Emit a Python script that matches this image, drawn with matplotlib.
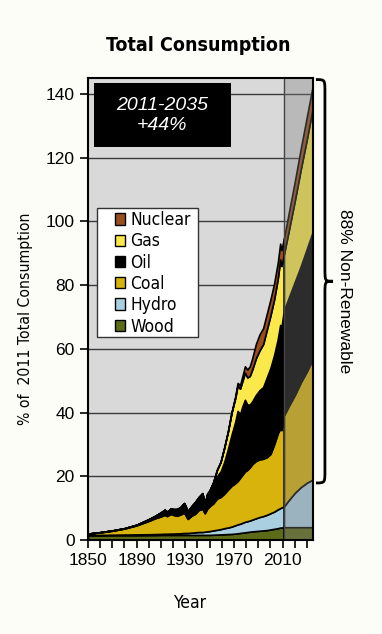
import numpy as np
import matplotlib.pyplot as plt
from matplotlib import font_manager as fm
from matplotlib.patches import Patch, Rectangle, PathPatch
from matplotlib.path import Path
from matplotlib.ticker import MultipleLocator

# historical, % of 2011 total consumption
years = [1850, 1860, 1870, 1880, 1890, 1900, 1905, 1910, 1913, 1915, 1918, 1920,
         1923, 1926, 1929, 1932, 1935, 1938, 1941, 1944, 1946, 1948, 1950, 1953,
         1956, 1959, 1962, 1965, 1968, 1971, 1973, 1975, 1977, 1979, 1981, 1983,
         1985, 1988, 1991, 1994, 1997, 2000, 2003, 2006, 2008, 2009, 2011]
wood = [1.5, 1.5, 1.5, 1.5, 1.5, 1.55, 1.55, 1.6, 1.6, 1.6, 1.6, 1.6,
        1.6, 1.6, 1.6, 1.6, 1.6, 1.6, 1.6, 1.6, 1.6, 1.6, 1.6, 1.65,
        1.7, 1.75, 1.8, 1.85, 1.9, 2.0, 2.1, 2.2, 2.3, 2.4, 2.5, 2.6,
        2.7, 2.8, 2.9, 3.0, 3.1, 3.3, 3.5, 3.7, 3.9, 3.9, 4.0]
hydro = [0.1, 0.1, 0.15, 0.2, 0.25, 0.25, 0.3, 0.3, 0.35, 0.35, 0.4, 0.4,
         0.45, 0.5, 0.6, 0.6, 0.7, 0.8, 0.9, 0.9, 1.0, 1.1, 1.2, 1.35,
         1.5, 1.65, 1.9, 2.05, 2.3, 2.6, 2.8, 2.9, 3.1, 3.3, 3.4, 3.5,
         3.7, 4.0, 4.3, 4.5, 4.8, 5.1, 5.4, 5.9, 6.1, 6.3, 6.5]
coal = [0.4, 0.8, 1.25, 1.9, 2.85, 4.2, 4.95, 5.5, 5.95, 5.55, 6.2, 5.9,
        5.55, 5.9, 6.4, 4.4, 5.3, 5.8, 6.9, 7.3, 5.8, 7.1, 7.8, 8.5,
        9.8, 10.1, 10.8, 11.9, 12.8, 13.2, 13.6, 14.4, 15.1, 15.8, 16.1, 16.7,
        17.4, 18.0, 18.1, 18.0, 18.1, 18.6, 21.1, 23.9, 25.0, 24.3, 28.5]
oil = [0.0, 0.05, 0.1, 0.1, 0.2, 0.5, 0.7, 1.2, 1.5, 1.3, 1.6, 1.7,
       2.0, 2.2, 2.8, 2.2, 2.8, 3.4, 3.8, 4.6, 2.6, 4.2, 4.4, 5.5,
       7.0, 8.0, 10.0, 12.7, 16.0, 19.2, 22.0, 20.0, 21.5, 22.5, 20.5, 19.7,
       19.7, 20.7, 21.7, 22.5, 25.0, 27.0, 28.0, 29.5, 32.5, 32.0, 33.0]
gas = [0, 0, 0, 0, 0, 0.05, 0.05, 0.1, 0.1, 0.1, 0.1, 0.1,
       0.1, 0.15, 0.2, 0.2, 0.2, 0.3, 0.3, 0.3, 0.4, 0.5, 0.6, 1.2,
       2.0, 3.0, 4.5, 5.5, 7.0, 7.5, 8.0, 8.0, 8.0, 8.5, 8.5, 9.0,
       10.0, 11.5, 12.5, 13.5, 15.0, 16.5, 17.5, 19.0, 20.5, 19.5, 17.5]
nuclear = [0] * 29 + [0.5, 0.8, 1.1, 1.5, 2.0, 2.5, 3.0, 3.5, 4.5,
                      5.0, 5.0, 5.0, 5.0, 5.0, 5.0, 5.0, 5.0, 5.0]

# projection 2011-2035
proj_years = [2011, 2015, 2020, 2025, 2030, 2035]
proj_wood = [4.0, 4.0, 4.0, 4.0, 4.0, 4.0]
proj_hydro = [6.5, 8.5, 10.8, 12.6, 14.0, 15.0]
proj_coal = [28.5, 29.5, 30.7, 32.9, 35.0, 38.0]
proj_oil = [33.0, 34.0, 35.5, 36.5, 38.5, 40.0]
proj_gas = [17.5, 21.0, 25.5, 30.5, 34.5, 39.0]
proj_nuclear = [5.0, 5.5, 6.0, 6.5, 7.0, 7.0]

labels = ['Wood', 'Hydro', 'Coal', 'Oil', 'Gas', 'Nuclear']
colors = ['#5c6b17', '#a9cfe0', '#d8b30c', '#000000', '#fbe84a', '#9a4e1c']

plt.rcParams['font.family'] = ['Liberation Sans', 'DejaVu Sans']


def narrow_font(size, bold=False):
    # look for an installed condensed face, else shrink the regular one
    for f in fm.fontManager.ttflist:
        fn = f.fname.replace('\\', '/').split('/')[-1]
        cond = ('Narrow' in fn or 'Condensed' in fn) and 'Semi' not in fn \
            and 'Extra' not in fn and 'Ultra' not in fn
        if not cond or 'Italic' in fn or 'Oblique' in fn:
            continue
        is_bold = 'Bold' in fn
        if is_bold == bold and not any(w in fn for w in ('Light', 'Thin', 'Black', 'Medium')):
            return fm.FontProperties(fname=f.fname, size=size)
    return fm.FontProperties(family=['Liberation Sans', 'DejaVu Sans'], size=size * 0.88,
                             weight='bold' if bold else 'normal')


fig = plt.figure(figsize=(3.82, 6.34), dpi=100, facecolor='#fdfdf8')
ax = fig.add_axes([0.2304, 0.1483, 0.589, 0.7287])
ax.set_facecolor('#d9d9d9')

ax.stackplot(years, wood, hydro, coal, oil, gas, nuclear, colors=colors,
             edgecolor='black', linewidth=1.2, zorder=2)
ax.stackplot(proj_years, proj_wood, proj_hydro, proj_coal, proj_oil, proj_gas,
             proj_nuclear, colors=colors, edgecolor='black', linewidth=1.2, zorder=2)

# dimmed projection area
ax.axvspan(2011, 2035, color='#7f7f7f', alpha=0.35, lw=0, zorder=3)
ax.axvline(2011, color='#444444', lw=1, zorder=3)

ax.set_xlim(1850, 2035)
ax.set_ylim(0, 145)
ax.yaxis.set_major_locator(MultipleLocator(20))
ax.set_xticks([1850, 1890, 1930, 1970, 2010])
ax.xaxis.set_minor_locator(MultipleLocator(10))
ax.grid(axis='y', color='#3a3a3a', lw=1)
ax.set_axisbelow(True)
ax.tick_params(axis='both', which='both', direction='out', length=6, width=1.2,
               labelsize=12.5, colors='black')
for s in ax.spines.values():
    s.set_linewidth(1.5)
    s.set_color('black')
    s.set_zorder(5)

# legend: white box drawn separately so the padding matches
ax.add_patch(Rectangle((0.040, 0.439), 0.449, 0.280, transform=ax.transAxes,
                       facecolor='white', edgecolor='#333333', lw=1, zorder=6))
handles = [Patch(facecolor=c, edgecolor='black', lw=1, label=l)
           for c, l in zip(colors, labels)][::-1]
leg = ax.legend(handles=handles, loc='upper left', bbox_to_anchor=(0.118, 0.712),
                frameon=False, prop=narrow_font(12.5), handlelength=0.62,
                handleheight=0.62, handletextpad=0.28, labelspacing=0.19,
                borderpad=0, borderaxespad=0)
leg.set_zorder(7)

# black callout box
ax.add_patch(Rectangle((0.027, 0.851), 0.609, 0.138, transform=ax.transAxes,
                       facecolor='black', edgecolor='none', zorder=6))
ax.text(0.331, 0.918, '2011-2035\n+44%', transform=ax.transAxes, color='white',
        ha='center', va='center', fontsize=14, style='italic',
        linespacing=1.25, zorder=7)

# brace on the right
ytop, ybot = 144.5, 17.9
ymid = (ytop + ybot) / 2
xa, xb, xc, r = 1.013, 1.053, 1.089, 4.0
verts = [(xa, ytop), (xb, ytop), (xb, ytop), (xb, ytop - r),
         (xb, ymid + r),
         (xb, ymid), (xb, ymid), (xc, ymid),
         (xb, ymid), (xb, ymid), (xb, ymid - r),
         (xb, ybot + r),
         (xb, ybot), (xb, ybot), (xa, ybot)]
codes = [Path.MOVETO] + [Path.CURVE4] * 3 + [Path.LINETO] + [Path.CURVE4] * 6 + \
        [Path.LINETO] + [Path.CURVE4] * 3
ax.add_patch(PathPatch(Path(verts, codes), transform=ax.get_yaxis_transform(),
                       facecolor='none', edgecolor='black', lw=2, clip_on=False))
ax.text(1.142, 78, '88% Non-Renewable', transform=ax.get_yaxis_transform(),
        rotation=-90, ha='center', va='center', fontsize=12.5)

fig.text(0.518, 0.929, 'Total Consumption', ha='center', va='center',
         fontproperties=narrow_font(14, bold=True))
fig.text(0.066, 0.497, '% of  2011 Total Consumption', rotation=90, ha='center',
         va='center', fontproperties=narrow_font(11.3))
fig.text(0.497, 0.049, 'Year', ha='center', va='center', fontproperties=narrow_font(12.5))

fig.savefig('out.png', dpi=100, facecolor=fig.get_facecolor())
